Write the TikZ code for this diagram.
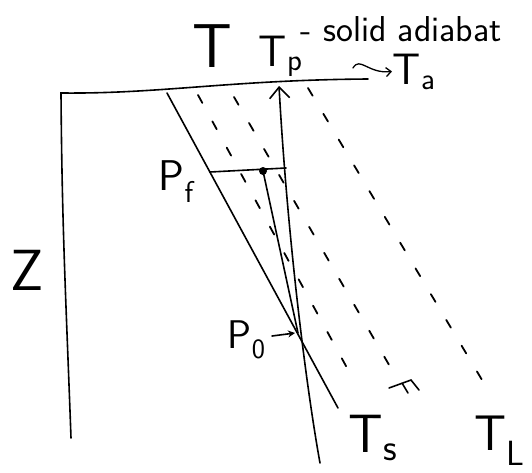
\documentclass[tikz,border=0pt]{standalone}
\usepackage{tikz}
\usetikzlibrary{arrows.meta, calc}

\begin{document}
\begin{tikzpicture}[x=1pt, y=-1pt, >=Stealth, line width=1.6pt, line cap=round]

\tikzset{
  lbl/.style={inner sep=0pt, anchor=base west, font=\sffamily\fontsize{#1}{#1}\selectfont},
  adiabat/.style={line width=1.8pt, dash pattern=on 9pt off 21pt},
  parcel/.style={-{Straight Barb[length=11pt, width=20pt]}},
}

\useasboundingbox (0,0) rectangle (532,472);

\coordinate (axTop) at (61,93);
\coordinate (axBot) at (71,438);
\coordinate (axRight) at (368,79);
\coordinate (tsTop) at (167,93);
\coordinate (tsBot) at (338,408);
\coordinate (tpBot) at (320,463);
\coordinate (tpTop) at (279,86);
\coordinate (po) at (298,333);
\coordinate (poArrow) at (272,336);
\coordinate (pfL) at (210,172);
\coordinate (pfR) at (286,168);
\coordinate (pfDot) at (263,171);
\coordinate (aTop) at (198,95);
\coordinate (aBot) at (352,377);
\coordinate (bTop) at (234,97);
\coordinate (bBot) at (392,370);
\coordinate (cTop) at (308,88);
\coordinate (cBot) at (488,390);
\coordinate (waveStart) at (353,68);

\node[lbl=62] (tLbl) at (192,67) {T};
\node[lbl=44] (tpLbl) at (258,66) {T\textsubscript{p}};
\node[lbl=36] (solidLbl) at (300,41) {- solid adiabat};
\node[lbl=44] (taLbl) at (392,84) {T\textsubscript{a}};
\node[lbl=58] (zLbl) at (10,290) {Z};
\node[lbl=43] (pfLbl) at (158,190) {P\textsubscript{f}};
\node[lbl=40] (poLbl) at (227,348) {P\textsubscript{0}};
\node[lbl=54] (tsLbl) at (348,452) {T\textsubscript{s}};
\node[lbl=50] (tlLbl) at (474,450) {T\textsubscript{L}};

\draw (axBot) .. controls (66,300) and (62,230) .. (axTop)
      .. controls (160,94) and (230,80) .. (axRight);

\draw (tsTop) -- (tsBot);
\draw[parcel] (tpBot) .. controls (305,380) and (287,230) .. (tpTop);
\draw (po) -- (pfDot);
\draw (pfL) -- (pfR);
\fill (pfDot) circle (4);

\draw[adiabat] (aTop) -- (aBot);
\draw[adiabat] (bTop) -- (bBot);
\draw[adiabat] (cTop) -- (cBot);
\draw (389,388) -- (411,380) -- (419,390) (402,383) -- (408,393);

\draw[-{Stealth[length=7pt, width=7pt]}] (poArrow) -- ($(po)+(-3,0)$);
\draw[-{Straight Barb[length=5pt, width=9pt]}, line width=1.3pt] (waveStart)
  .. controls (360,56) and (368,74) .. (taLbl.west);

\end{tikzpicture}
\end{document}
